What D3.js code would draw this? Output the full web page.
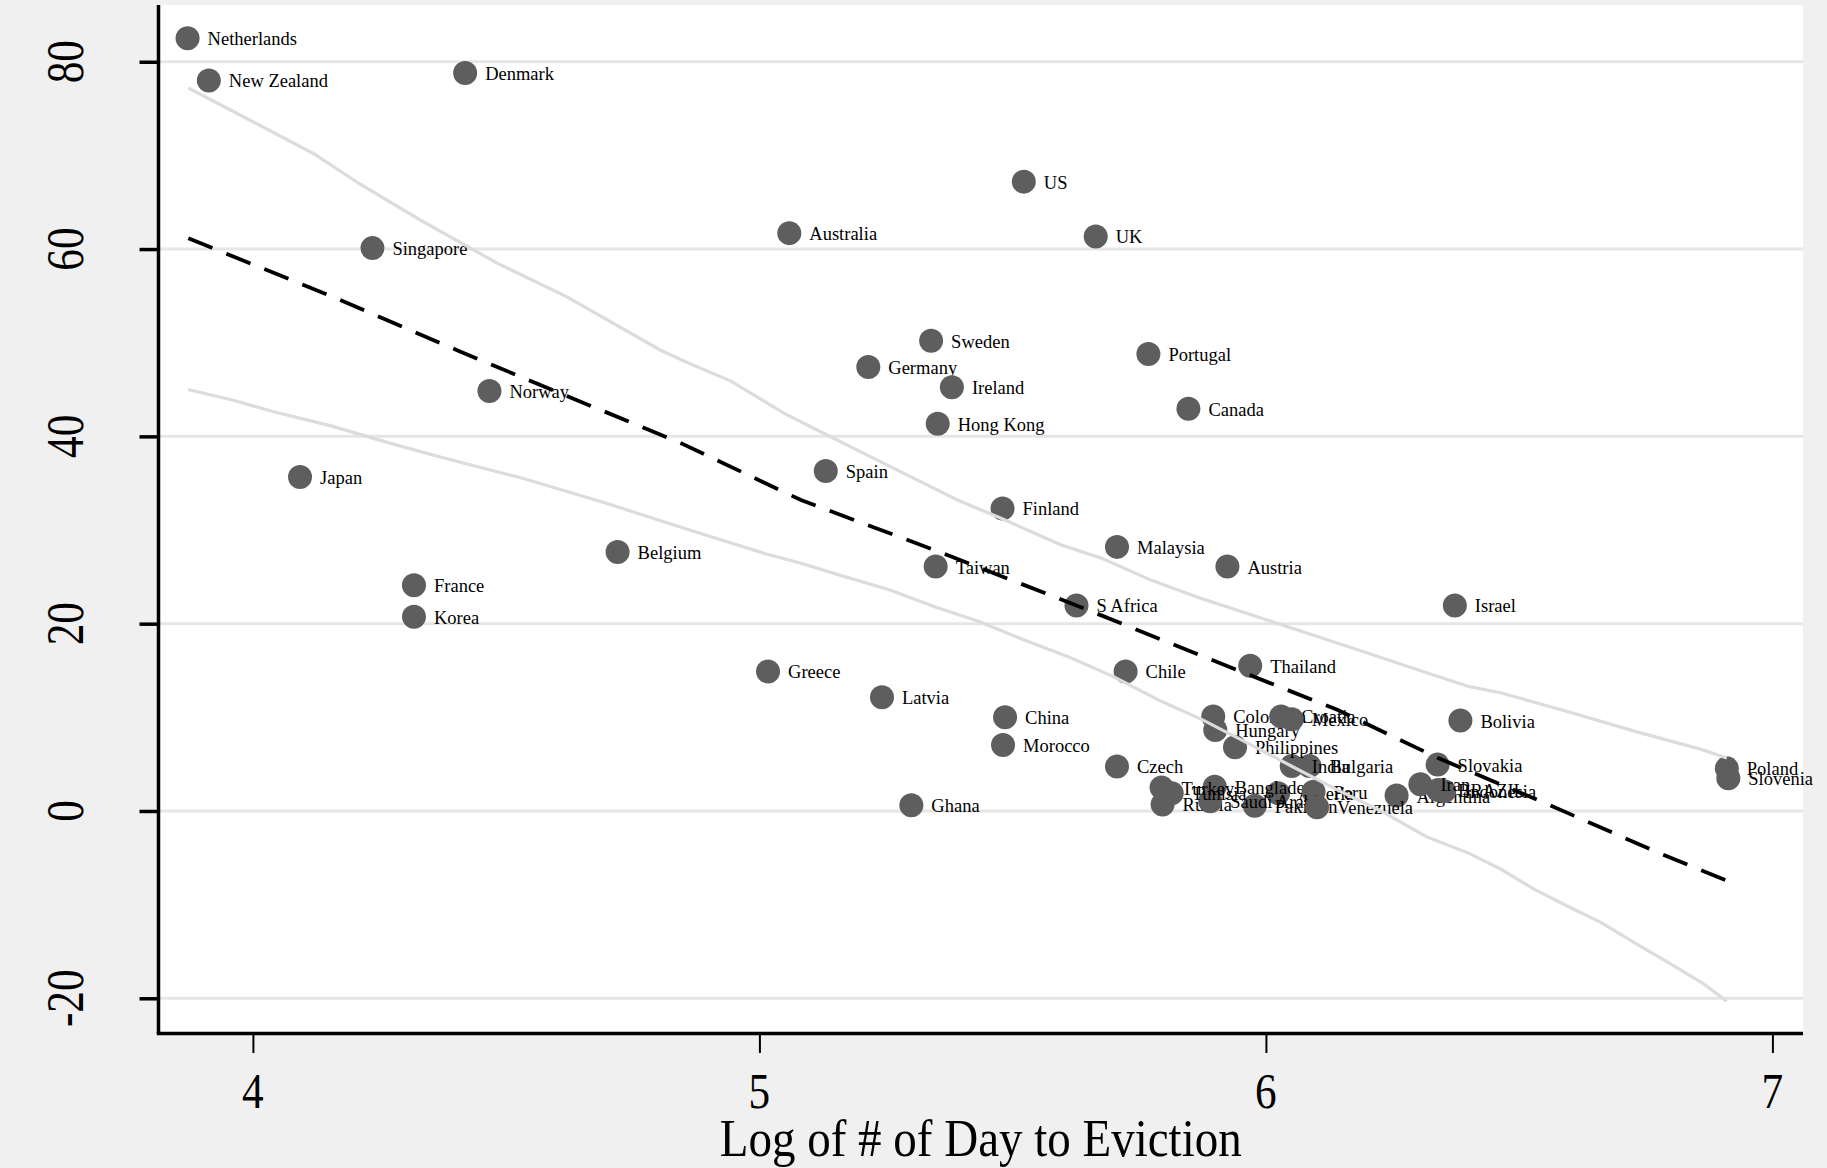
<!DOCTYPE html>
<html><head><meta charset="utf-8">
<script src="https://cdn.jsdelivr.net/npm/d3@7"></script>
<style>html,body{margin:0;padding:0;background:#f0f0f0;} svg{display:block;}</style>
</head><body>
<svg id="chart" width="1827" height="1168"></svg>
<script>
// ---- data ----
const countries = ["Netherlands","New Zealand","Denmark","Singapore","Norway","Japan","Belgium","France","Korea","Greece",
  "US","Australia","UK","Sweden","Germany","Ireland","Hong Kong","Portugal","Canada","Spain",
  "Finland","Malaysia","Taiwan","Austria","S Africa","Israel","Thailand","Chile","Latvia","China",
  "Morocco","Czech","Ghana","Colombia","Hungary","Croatia","Mexico","Philippines","India","Bulgaria",
  "Bolivia","Slovakia","Turkey","Tunisia","Russia","Bangladesh","Saudi Arabia","Algeria","Pakistan","Peru",
  "Venezuela","Argentina","Iran","BRAZIL","Indonesia","Poland","Slovenia"];
const logDays = [3.871,3.913,4.419,4.236,4.467,4.093,4.720,4.318,4.318,5.017,
  5.522,5.059,5.664,5.339,5.215,5.380,5.352,5.768,5.847,5.131,
  5.480,5.706,5.348,5.924,5.626,6.373,5.969,5.723,5.242,5.485,
  5.481,5.706,5.300,5.896,5.900,6.030,6.051,5.939,6.051,6.086,
  6.384,6.339,5.794,5.814,5.796,5.899,5.890,6.024,5.978,6.094,
  6.101,6.258,6.305,6.340,6.352,6.910,6.913];
const scores = [82.5,78.0,78.8,60.1,44.85,35.65,27.65,24.1,20.75,14.9,
  67.2,61.7,61.35,50.2,47.4,45.25,41.35,48.8,42.95,36.3,
  32.3,28.2,26.1,26.1,21.95,21.95,15.5,14.9,12.15,10.0,
  7.05,4.75,0.6,10.1,8.65,10.1,9.8,6.8,4.8,4.8,
  9.65,4.95,2.5,1.9,0.7,2.6,1.05,1.9,0.55,2.05,
  0.4,1.65,2.85,2.25,2.1,4.55,3.5];

// fitted line (dashed)
const fitX = [3.8725,4.151,4.403,4.616,4.846,5.082,5.346,5.626,5.876,6.141,6.340,6.551,6.768,6.913];
const fitY = [61.15,55.05,49.2,44.4,39.25,33.2,27.85,21.95,16.5,10.8,5.65,0.85,-4.3,-7.5];
// upper band (light grey)
const upperX = [3.8725,3.984,4.121,4.211,4.332,4.484,4.620,4.805,4.863,4.944,5.049,5.115,5.194,5.391,5.477,5.596,5.675,5.773,5.872,5.971,6.103,6.202,6.301,6.400,6.465,6.597,6.729,6.861,6.910];
const upperY = [77.2,74.05,70.15,66.95,63.05,58.45,54.9,49.2,47.75,45.9,42.45,40.65,38.5,33.2,31.25,28.4,27.0,24.65,22.7,20.95,18.6,16.85,15.05,13.3,12.6,10.6,8.5,6.55,5.65];
// lower band (light grey)
const lowerX = [3.872,3.961,4.043,4.149,4.272,4.370,4.534,4.698,4.862,5.010,5.082,5.170,5.258,5.346,5.435,5.523,5.611,5.699,5.788,5.876,5.964,6.052,6.141,6.229,6.317,6.400,6.465,6.531,6.597,6.663,6.729,6.795,6.861,6.910];
const lowerY = [45.0,43.85,42.6,41.2,39.25,37.8,35.5,32.85,30.0,27.5,26.45,25.0,23.6,21.8,20.2,18.25,16.45,14.35,11.85,9.7,7.25,4.75,2.25,-0.05,-2.75,-4.5,-6.25,-8.4,-10.2,-11.95,-14.1,-16.2,-18.35,-20.3];

const xTicks = [4,5,6,7];
const yTicks = [-20,0,20,40,60,80];
const xTitle = "Log of # of Day to Eviction";

// ---- drawing ----
const serif = "'Liberation Serif','Times New Roman',Times,serif";
const svg = d3.select("#chart");
const plot = {left:158.5, right:1803, top:5, bottom:1032};
const x = d3.scaleLinear().domain([3.8136, 7.0604]).range([plot.left, plot.right]);
const y = d3.scaleLinear().domain([-23.6, 86.06]).range([plot.bottom, plot.top]);

svg.append("rect").attr("width",1827).attr("height",1168).attr("fill","#f0f0f0");
svg.append("rect").attr("x",plot.left).attr("y",plot.top)
  .attr("width",plot.right-plot.left).attr("height",plot.bottom-plot.top).attr("fill","#ffffff");

// gridlines
svg.append("g").selectAll("line").data(yTicks).join("line")
  .attr("x1",plot.left).attr("x2",plot.right)
  .attr("y1",d=>y(d)).attr("y2",d=>y(d))
  .attr("stroke","#e6e6e6").attr("stroke-width",3);

// points with labels (alphabetical draw order)
const pts = countries.map((c,i)=>({name:c, lx:logDays[i], v:scores[i]}))
  .sort((a,b)=> a.name < b.name ? -1 : a.name > b.name ? 1 : 0);
const g = svg.append("g");
pts.forEach(p=>{
  g.append("circle").attr("cx",x(p.lx)).attr("cy",y(p.v)).attr("r",12).attr("fill","#5e5e5e");
  g.append("text").attr("x",x(p.lx)+20).attr("y",y(p.v)+7)
    .attr("font-family",serif).attr("font-size",18.5).attr("fill","#000").text(p.name);
});

// lines
const line = d3.line().x(d=>x(d[0])).y(d=>y(d[1]));
svg.append("path").datum(upperX.map((v,i)=>[v,upperY[i]])).attr("d",line)
  .attr("fill","none").attr("stroke","#dcdcdc").attr("stroke-width",3.2);
svg.append("path").datum(lowerX.map((v,i)=>[v,lowerY[i]])).attr("d",line)
  .attr("fill","none").attr("stroke","#dcdcdc").attr("stroke-width",3.2);
svg.append("path").datum(fitX.map((v,i)=>[v,fitY[i]])).attr("d",line)
  .attr("fill","none").attr("stroke","#000").attr("stroke-width",3.8)
  .attr("stroke-dasharray","26,15");

// y axis
const yAxis = svg.append("g").attr("transform",`translate(${plot.left},0)`)
  .call(d3.axisLeft(y).tickValues(yTicks).tickSize(19).tickFormat(""));
yAxis.select(".domain").remove();
yAxis.selectAll(".tick line").attr("stroke","#000").attr("stroke-width",3.5);
svg.append("line").attr("x1",plot.left).attr("x2",plot.left).attr("y1",plot.top).attr("y2",plot.bottom+2)
  .attr("stroke","#000").attr("stroke-width",3.5);
svg.append("g").selectAll("text").data(yTicks).join("text")
  .attr("transform",d=>`translate(83,${y(d)}) rotate(-90) scale(0.92,1.12)`)
  .attr("text-anchor","middle").attr("font-family",serif).attr("font-size",47).attr("fill","#000")
  .text(d=>d);

// x axis
const xAxis = svg.append("g").attr("transform",`translate(0,${plot.bottom+2})`)
  .call(d3.axisBottom(x).tickValues(xTicks).tickSize(19).tickFormat(""));
xAxis.select(".domain").remove();
xAxis.selectAll(".tick line").attr("stroke","#000").attr("stroke-width",2);
svg.append("line").attr("x1",plot.left-1.7).attr("x2",plot.right).attr("y1",plot.bottom+1.5).attr("y2",plot.bottom+1.5)
  .attr("stroke","#000").attr("stroke-width",3.5);
svg.append("g").selectAll("text").data(xTicks).join("text")
  .attr("transform",d=>`translate(${x(d)},1108) scale(0.92,1.1)`)
  .attr("text-anchor","middle").attr("font-family",serif).attr("font-size",47).attr("fill","#000")
  .text(d=>d);
svg.append("text").attr("transform",`translate(${(plot.left+plot.right)/2},1156) scale(1,1.14)`)
  .attr("text-anchor","middle").attr("font-family",serif).attr("font-size",47).attr("fill","#000")
  .text(xTitle);
</script>
</body></html>
